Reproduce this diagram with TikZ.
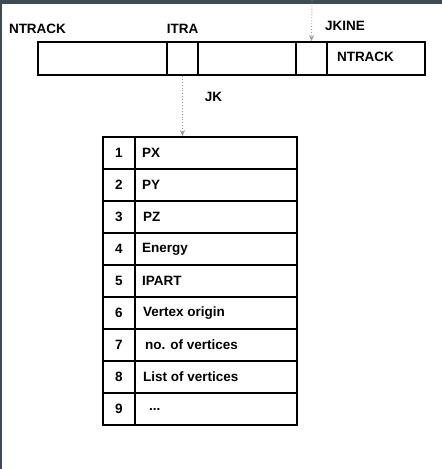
\documentclass[tikz,border=0pt]{standalone}
\usepackage{fontspec}
\setmainfont{Liberation Sans}
\usetikzlibrary{arrows.meta}
\definecolor{frame}{HTML}{3B4C55}
\definecolor{ptr}{HTML}{9A9A9A}
\newcommand\myell{...}
\tikzset{
  cell/.style={draw=black, line width=1.8pt, inner sep=0pt, minimum height=33pt},
  tcell/.style={draw=black, line width=1.8pt, inner sep=0pt, minimum height=32pt},
  lbl/.style={font=\fontsize{13.5pt}{15pt}\selectfont\bfseries, inner sep=0pt},
  txt/.style={lbl, anchor=west},
  pointer/.style={draw=ptr, line width=0.9pt, dotted, -{Stealth[length=6pt,width=5pt,open]}}
}
\begin{document}
\begin{tikzpicture}[x=1pt,y=-1pt]
\useasboundingbox (0,0) rectangle (442,469);
\fill[white] (0,0) rectangle (442,469);
\fill[frame] (0,0) rectangle (442,4);
\fill[frame] (0,0) rectangle (2,469);
% top labels
\node[lbl] (lntrack) at (37.5,29) {NTRACK};
\node[lbl] (litra) at (182.5,29) {ITRA};
\node[lbl] (ljkine) at (345,26) {JKINE};
% top row cells
\node[cell, minimum width=129pt] (c1) at (102.5,58.5) {};
\node[cell, minimum width=31pt] (c2) at (182.5,58.5) {};
\node[cell, minimum width=98pt] (c3) at (247,58.5) {};
\node[cell, minimum width=31pt] (c4) at (311.5,58.5) {};
\node[cell, minimum width=98pt] (c5) at (376,58.5) {};
\node[lbl] (intrack) at (365.5,57) {NTRACK};
\node[lbl] (ljk) at (213.5,97) {JK};
% table
\foreach \i/\t/\dx in {1/PX/0,2/PY/0,3/PZ/1,4/Energy/0,5/IPART/0,6/Vertex origin/1,7/no. of vertices/3,8/List of vertices/1,9/\myell/7}{
  \pgfmathsetmacro{\yy}{153+32*(\i-1)}
  \node[tcell, minimum width=32pt] (n\i) at (119,\yy) {};
  \node[tcell, minimum width=162pt] (t\i) at (216,\yy) {};
  \node[lbl] (nl\i) at (n\i.center) {\i};
  \node[txt] (tl\i) at ([xshift=\dx pt]142,\yy) {\t};
}
% pointers
\coordinate (src) at (312,0);
\draw[pointer] (src) -- (c4.north);
\draw[pointer] (c2.south) -- (c2.south |- t1.north);
\end{tikzpicture}
\end{document}
